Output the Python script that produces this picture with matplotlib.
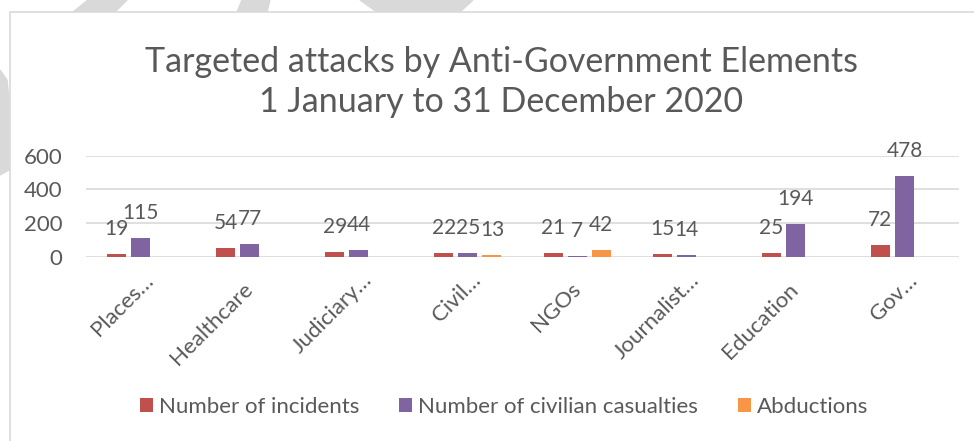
import numpy as np
import matplotlib.pyplot as plt
import matplotlib.transforms as mtransforms
from matplotlib.patches import Rectangle, Polygon

plt.rcParams['font.family'] = ['Lato', 'DejaVu Sans']

categories = ['Places…', 'Healthcare', 'Judiciary…', 'Civil…', 'NGOs',
              'Journalist…', 'Education', 'Gov…']
incidents = [19, 54, 29, 22, 21, 15, 25, 72]
casualties = [115, 77, 44, 25, 7, 14, 194, 478]
abductions = [np.nan, np.nan, np.nan, 13, 42, np.nan, np.nan, np.nan]

series = [
    ('Number of incidents', incidents, '#C0504D'),
    ('Number of civilian casualties', casualties, '#8064A2'),
    ('Abductions', abductions, '#F79646'),
]

TXT = '#595959'
W, H = 974, 441
fig = plt.figure(figsize=(W / 100, H / 100), dpi=100)


def px(x, y):
    # pixel position from the top-left corner -> figure fraction
    return (x / W, 1 - y / H)


# grey watermark pieces showing outside the chart frame
for pts in [
    [(0, 70), (7, 80), (9, 100), (9, 170), (0, 175)],
    [(88, 0), (127, 0), (115, 12), (73, 12)],
    [(242, 0), (270, 0), (267, 12), (237, 12)],
    [(360, 0), (473, 0), (460, 12), (377, 12)],
]:
    fig.patches.append(Polygon([px(*p) for p in pts], closed=True,
                               transform=fig.transFigure, color='#D9D9D9', zorder=0))
# chart frame
fig.patches.append(Rectangle(px(9.5, 445), 1.0, (445 - 11.5) / H,
                             transform=fig.transFigure, facecolor='white',
                             edgecolor='#D9D9D9', linewidth=1.2, zorder=1))

ax = fig.add_axes([86 / W, 1 - 257 / H, (959 - 86) / W, (257 - 155.7) / H])
ax.set_zorder(2)
ax.patch.set_alpha(0)

x = np.arange(len(categories))
step, width = 0.22, 0.174
for i, (name, vals, col) in enumerate(series):
    pos = x + (i - 1) * step
    vals = np.array(vals, dtype=float)
    ax.bar(pos, vals, width=width, color=col, label=name, zorder=3)
    for bx, v in zip(pos, vals):
        if not np.isnan(v):
            ax.annotate(f'{int(v)}', (bx, v), xytext=(0, 18), textcoords='offset points',
                        ha='center', va='center', fontsize=15, color=TXT, zorder=4)

ax.set_xlim(-0.5, len(categories) - 0.5)
ax.set_ylim(0, 600)
ax.set_yticks([0, 200, 400, 600])
ax.yaxis.grid(True, color='#D9D9D9', linewidth=1.2, zorder=0)
ax.set_axisbelow(True)
for s in ax.spines.values():
    s.set_visible(False)
ax.tick_params(axis='both', length=0, labelsize=16, labelcolor=TXT)
ax.tick_params(axis='y', pad=17)
ax.set_xticks(x)
ax.set_xticklabels(categories, rotation=45, ha='right', va='center', rotation_mode='anchor')
ax.tick_params(axis='x', pad=21)
for lab in ax.get_xticklabels():
    # truncated labels sit further along the text direction, as in Excel
    dx, dy = (10, 9) if lab.get_text().endswith('…') else (0, 0)
    off = mtransforms.ScaledTranslation(dx / 100, dy / 100, fig.dpi_scale_trans)
    lab.set_transform(lab.get_transform() + off)

fig.text(501 / W, 1 - 82 / H, 'Targeted attacks by Anti-Government Elements\n1 January to 31 December 2020',
         ha='center', va='center', fontsize=24.5, color=TXT, linespacing=1.28)

fig.legend(loc='center', bbox_to_anchor=px(504, 407), ncol=3, frameon=False,
           fontsize=16, labelcolor=TXT, handlelength=0.6, handleheight=0.6,
           handletextpad=0.25, columnspacing=1.8)

fig.savefig('out.png', dpi=100)
